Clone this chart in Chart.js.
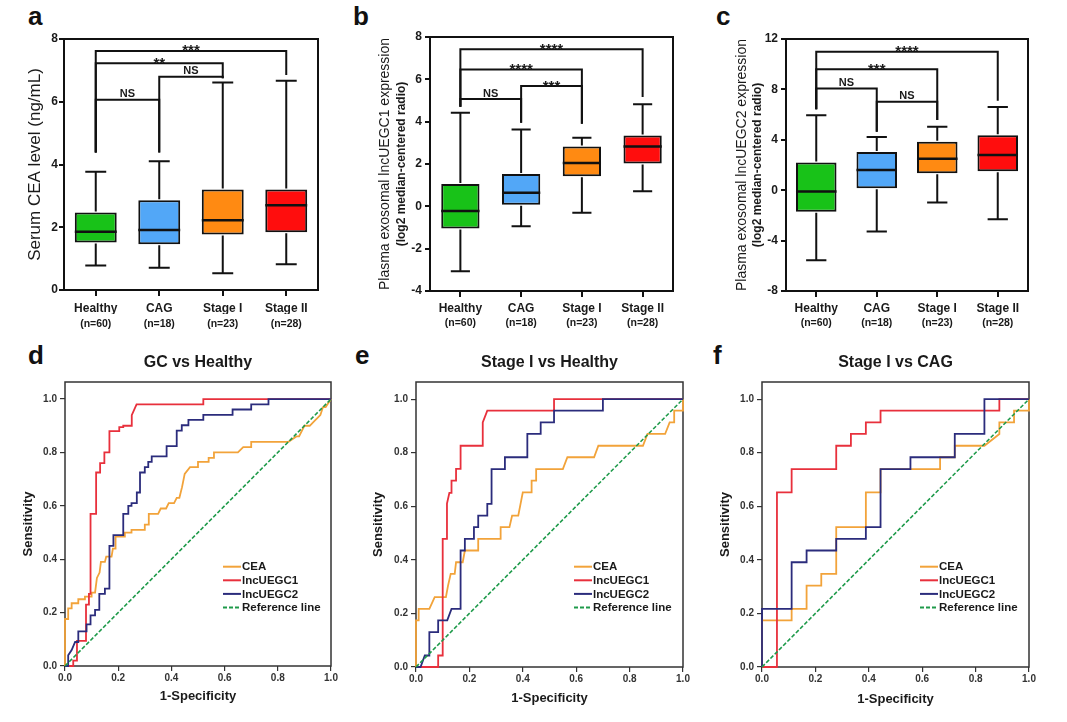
<!DOCTYPE html>
<html><head><meta charset="utf-8">
<script src="https://cdn.jsdelivr.net/npm/chart.js@4.4.1/dist/chart.umd.min.js"></script>
<style>
body{margin:0;background:#fff;width:1067px;height:722px;overflow:hidden;position:relative;font-family:"Liberation Sans",Arial,sans-serif}
canvas{position:absolute}
.lt{position:absolute;font:bold 26px "Liberation Sans",Arial,sans-serif;line-height:26px;color:#111}
</style></head><body>
<div class="lt" style="left:28px;top:3px">a</div>
<div class="lt" style="left:353px;top:3px">b</div>
<div class="lt" style="left:716px;top:3px">c</div>
<div class="lt" style="left:28px;top:342px">d</div>
<div class="lt" style="left:355px;top:342px">e</div>
<div class="lt" style="left:713px;top:342px">f</div>
<canvas id="ca" width="345" height="340" style="left:0;top:0"></canvas>
<canvas id="cb" width="350" height="340" style="left:350px;top:0"></canvas>
<canvas id="cc" width="357" height="340" style="left:710px;top:0"></canvas>
<canvas id="cd" width="350" height="382" style="left:0;top:340px"></canvas>
<canvas id="ce" width="350" height="382" style="left:350px;top:340px"></canvas>
<canvas id="cf" width="357" height="382" style="left:710px;top:340px"></canvas>
<script>
// ---------- box-plot data ----------
const groups = ['Healthy','CAG','Stage I','Stage II'];
const groupN = ['(n=60)','(n=18)','(n=23)','(n=28)'];
const boxColors = ['#18c218','#52a7f7','#ff8a12','#ff0d0d'];

const ceaMin = [0.78,0.71,0.53,0.82];
const ceaQ1  = [1.51,1.46,1.77,1.84];
const ceaMed = [1.86,1.91,2.22,2.70];
const ceaQ3  = [2.47,2.86,3.20,3.20];
const ceaMax = [3.77,4.10,6.61,6.67];
const ceaBrackets = [[0,3,7.62,4.38,6.85,'***'],[0,2,7.23,4.38,6.75,'**'],[1,2,6.80,4.38,6.75,'NS'],[0,1,6.06,4.38,4.38,'NS']];

const u1Min = [-3.07,-0.94,-0.30,0.71];
const u1Q1  = [-1.05,0.08,1.42,2.02];
const u1Med = [-0.22,0.64,2.05,2.83];
const u1Q3  = [1.05,1.53,2.83,3.35];
const u1Max = [4.42,3.63,3.24,4.82];
const u1Brackets = [[0,3,7.42,4.71,5.17,'****'],[0,2,6.46,4.71,3.9,'****'],[1,2,5.68,3.95,3.9,'***'],[0,1,5.07,4.71,3.95,'NS']];

const u2Min = [-5.56,-3.28,-0.98,-2.30];
const u2Q1  = [-1.72,0.16,1.35,1.51];
const u2Med = [-0.10,1.61,2.49,2.80];
const u2Q3  = [2.20,3.04,3.84,4.37];
const u2Max = [5.95,4.23,5.03,6.61];
const u2Brackets = [[0,3,10.98,6.43,7.09,'****'],[0,2,9.6,6.43,5.58,'***'],[0,1,8.07,6.43,4.63,'NS'],[1,2,7.01,4.63,5.58,'NS']];

// ---------- ROC data ----------
const rocLabels = ['CEA','lncUEGC1','lncUEGC2','Reference line'];
const rocColors = ['#f2a33a','#e8303c','#2b2c7c','#1e9a4a'];
const refLine = [[0,0],[1,1]];

const dCEA = [[0,0],[0,0.176],[0.012,0.176],[0.012,0.216],[0.025,0.216],[0.025,0.235],[0.05,0.235],[0.05,0.25],[0.075,0.25],[0.075,0.26],[0.1,0.26],[0.1,0.275],[0.113,0.275],[0.12,0.33],[0.13,0.35],[0.135,0.39],[0.15,0.39],[0.155,0.41],[0.175,0.41],[0.18,0.44],[0.19,0.44],[0.19,0.485],[0.225,0.485],[0.225,0.5],[0.25,0.5],[0.25,0.51],[0.3,0.51],[0.3,0.53],[0.315,0.53],[0.315,0.57],[0.35,0.57],[0.36,0.59],[0.38,0.59],[0.39,0.61],[0.41,0.61],[0.42,0.63],[0.43,0.63],[0.44,0.67],[0.45,0.72],[0.47,0.745],[0.5,0.745],[0.5,0.765],[0.54,0.765],[0.54,0.78],[0.56,0.78],[0.56,0.8],[0.65,0.8],[0.67,0.82],[0.7,0.82],[0.7,0.84],[0.84,0.84],[0.87,0.86],[0.88,0.86],[0.9,0.9],[0.92,0.9],[0.94,0.92],[0.96,0.94],[0.97,0.97],[0.98,0.97],[1,1]];
const dU1 = [[0,0],[0.031,0],[0.031,0.02],[0.045,0.02],[0.045,0.094],[0.079,0.094],[0.079,0.23],[0.09,0.23],[0.09,0.27],[0.096,0.27],[0.096,0.57],[0.117,0.57],[0.117,0.725],[0.132,0.725],[0.132,0.76],[0.148,0.76],[0.148,0.8],[0.167,0.8],[0.167,0.88],[0.204,0.88],[0.204,0.895],[0.219,0.895],[0.219,0.9],[0.251,0.9],[0.251,0.94],[0.269,0.98],[0.52,0.98],[0.52,1],[1,1]];
const dU2 = [[0,0],[0.012,0],[0.012,0.04],[0.025,0.06],[0.038,0.09],[0.05,0.09],[0.05,0.13],[0.081,0.13],[0.081,0.156],[0.096,0.156],[0.096,0.19],[0.113,0.19],[0.113,0.21],[0.129,0.21],[0.129,0.27],[0.15,0.27],[0.15,0.29],[0.167,0.29],[0.167,0.45],[0.182,0.45],[0.182,0.49],[0.219,0.49],[0.219,0.57],[0.238,0.57],[0.238,0.6],[0.25,0.6],[0.25,0.61],[0.27,0.61],[0.27,0.65],[0.282,0.65],[0.282,0.725],[0.3,0.725],[0.3,0.745],[0.313,0.745],[0.313,0.765],[0.326,0.765],[0.326,0.785],[0.382,0.785],[0.382,0.824],[0.42,0.824],[0.42,0.882],[0.439,0.882],[0.439,0.902],[0.464,0.902],[0.464,0.922],[0.52,0.922],[0.52,0.941],[0.63,0.941],[0.63,0.961],[0.70,0.961],[0.70,0.98],[0.765,0.98],[0.765,1],[1,1]];

const eCEA = [[0,0],[0,0.174],[0.01,0.174],[0.01,0.217],[0.05,0.217],[0.07,0.261],[0.112,0.261],[0.12,0.304],[0.13,0.348],[0.145,0.348],[0.15,0.391],[0.175,0.391],[0.183,0.435],[0.233,0.435],[0.233,0.478],[0.317,0.478],[0.317,0.522],[0.35,0.522],[0.36,0.565],[0.383,0.565],[0.4,0.652],[0.433,0.652],[0.433,0.696],[0.45,0.696],[0.45,0.739],[0.55,0.739],[0.567,0.783],[0.667,0.783],[0.683,0.826],[0.85,0.826],[0.867,0.87],[0.933,0.87],[0.95,0.913],[0.967,0.913],[0.967,0.957],[1,0.957],[1,1]];
const eU1 = [[0,0],[0.083,0],[0.083,0.043],[0.1,0.043],[0.1,0.478],[0.116,0.478],[0.116,0.61],[0.125,0.65],[0.133,0.65],[0.133,0.696],[0.15,0.696],[0.15,0.74],[0.167,0.74],[0.167,0.826],[0.25,0.826],[0.25,0.913],[0.267,0.957],[0.517,0.957],[0.517,1],[1,1]];
const eU2 = [[0,0],[0.017,0],[0.033,0.043],[0.05,0.043],[0.05,0.13],[0.083,0.13],[0.083,0.174],[0.117,0.174],[0.133,0.217],[0.167,0.217],[0.167,0.435],[0.183,0.435],[0.183,0.478],[0.217,0.478],[0.217,0.522],[0.233,0.522],[0.233,0.565],[0.267,0.565],[0.267,0.609],[0.283,0.609],[0.283,0.739],[0.333,0.739],[0.333,0.783],[0.417,0.783],[0.417,0.87],[0.467,0.87],[0.467,0.913],[0.517,0.913],[0.517,0.957],[0.7,0.957],[0.7,1],[1,1]];

const fCEA = [[0,0],[0,0.174],[0.111,0.174],[0.111,0.217],[0.167,0.217],[0.167,0.304],[0.222,0.304],[0.222,0.348],[0.278,0.348],[0.278,0.522],[0.389,0.522],[0.389,0.652],[0.444,0.652],[0.444,0.739],[0.667,0.739],[0.667,0.783],[0.722,0.783],[0.722,0.826],[0.833,0.826],[0.889,0.870],[0.889,0.913],[0.944,0.913],[0.944,0.957],[1,0.957],[1,1]];
const fU1 = [[0,0],[0.056,0],[0.056,0.652],[0.111,0.652],[0.111,0.739],[0.278,0.739],[0.278,0.826],[0.333,0.826],[0.333,0.870],[0.389,0.870],[0.389,0.913],[0.444,0.913],[0.444,0.957],[0.889,0.957],[0.889,1],[1,1]];
const fU2 = [[0,0],[0,0.217],[0.111,0.217],[0.111,0.391],[0.167,0.391],[0.167,0.435],[0.278,0.435],[0.278,0.478],[0.389,0.478],[0.389,0.522],[0.444,0.522],[0.444,0.739],[0.556,0.739],[0.556,0.783],[0.722,0.783],[0.722,0.870],[0.833,0.870],[0.833,1],[1,1]];

// ---------- common ----------
const FONT = '"Liberation Sans", Arial, sans-serif';
Chart.defaults.font.family = FONT;
Chart.defaults.color = '#1a1a1a';
Chart.defaults.animation = false;

function framePlugin(color, lw){
  return {id:'frame', beforeDatasetsDraw(chart){
    const {ctx, chartArea:a} = chart;
    ctx.save(); ctx.strokeStyle=color; ctx.lineWidth=lw;
    ctx.strokeRect(a.left, a.top, a.right-a.left, a.bottom-a.top);
    ctx.restore();
  }};
}

function boxExtras(mins, meds, maxs, brackets){
  return {id:'boxExtras', afterDatasetsDraw(chart){
    const {ctx, scales:{x,y}} = chart;
    const meta = chart.getDatasetMeta(0);
    ctx.save();
    ctx.strokeStyle='#111'; ctx.lineWidth=2; ctx.lineCap='butt'; ctx.lineJoin='miter';
    meta.data.forEach((bar,i)=>{
      const cx = x.getPixelForValue(i), w = bar.width;
      const [q1,q3] = chart.data.datasets[0].data[i];
      const yq1=y.getPixelForValue(q1), yq3=y.getPixelForValue(q3);
      const ymin=y.getPixelForValue(mins[i]), ymax=y.getPixelForValue(maxs[i]);
      ctx.beginPath();
      ctx.moveTo(cx,yq3-1); ctx.lineTo(cx,ymax);
      ctx.moveTo(cx,yq1+1); ctx.lineTo(cx,ymin);
      ctx.moveTo(cx-w*0.25,ymax); ctx.lineTo(cx+w*0.25,ymax);
      ctx.moveTo(cx-w*0.25,ymin); ctx.lineTo(cx+w*0.25,ymin);
      ctx.stroke();
      ctx.beginPath(); ctx.lineWidth=2.5;
      const ym=y.getPixelForValue(meds[i]);
      ctx.moveTo(cx-w/2,ym); ctx.lineTo(cx+w/2,ym); ctx.stroke();
      ctx.lineWidth=2;
    });
    ctx.fillStyle='#1a1a1a'; ctx.textAlign='center'; ctx.textBaseline='alphabetic';
    brackets.forEach(([a,b,yv,la,lb,txt])=>{
      const xa=x.getPixelForValue(a), xb=x.getPixelForValue(b), yy=y.getPixelForValue(yv);
      ctx.beginPath();
      ctx.moveTo(xa,y.getPixelForValue(la)); ctx.lineTo(xa,yy); ctx.lineTo(xb,yy); ctx.lineTo(xb,y.getPixelForValue(lb));
      ctx.stroke();
      if (txt==='NS'){ ctx.font='bold 11px '+FONT; ctx.fillText(txt,(xa+xb)/2,yy-2.5); }
      else { ctx.font='bold 15px '+FONT; ctx.fillText(txt,(xa+xb)/2,yy+4.5); }
    });
    ctx.restore();
  }};
}

function boxChart(id, q1, q3, mins, meds, maxs, brackets, o){
  const scales = {
    x:{type:'category', weight:0, offset:true,
       grid:{display:true, drawOnChartArea:false, offset:false, tickLength:6, color:'#111', lineWidth:2},
       border:{display:false},
       ticks:{font:{size:12, weight:'bold'}, color:'#1a1a1a', padding:o.xPad, maxRotation:0, autoSkip:false},
       afterFit(s){ s.height=24; }},
    x2:{type:'category', labels:groupN, position:'bottom', weight:1, offset:true,
       grid:{display:false, drawTicks:false}, border:{display:false},
       ticks:{font:{size:10.5, weight:'bold'}, color:'#1a1a1a', padding:o.x2Pad, maxRotation:0, autoSkip:false},
       afterFit(s){ s.height=o.x2H; }},
    y:{type:'linear', position:'left', weight:0, min:o.min, max:o.max,
       ticks:{stepSize:o.step, font:{size:12, weight:'bold'}, color:'#1a1a1a', padding:o.yPad},
       grid:{drawOnChartArea:false, tickLength:5, color:'#111', lineWidth:2},
       border:{display:false},
       title:{display:true, text:o.yTitle, font:o.yTitleFont, color:'#1a1a1a', padding:{top:o.yTitlePad, bottom:0}},
       afterFit(s){ s.width=o.yW; }}
  };
  if (o.mainTitle){
    scales.yt = {type:'linear', position:'left', weight:1, display:true,
      grid:{display:false, drawTicks:false}, border:{display:false}, ticks:{display:false},
      title:{display:true, text:o.mainTitle, font:{size:14}, color:'#1a1a1a', padding:{top:o.mainPad, bottom:0}},
      afterFit(s){ s.width=o.ytW; }};
  }
  new Chart(document.getElementById(id), {
    type:'bar',
    data:{labels:groups, datasets:[{
      data:q1.map((v,i)=>[v,q3[i]]),
      backgroundColor:boxColors, borderColor:'#111', borderWidth:2, borderSkipped:false,
      barPercentage:o.barPct, categoryPercentage:1
    }]},
    options:{responsive:false, devicePixelRatio:1,
      layout:{padding:{left:0, top:o.top, right:o.right, bottom:0}},
      plugins:{legend:{display:false}, tooltip:{enabled:false}},
      scales},
    plugins:[framePlugin('#111',2), boxExtras(mins, meds, maxs, brackets)]
  });
}

boxChart('ca', ceaQ1, ceaQ3, ceaMin, ceaMed, ceaMax, ceaBrackets,
  {min:0,max:8,step:2, top:39, right:27, yW:64, yPad:1, yTitle:'Serum CEA level (ng/mL)', yTitleFont:{size:17}, yTitlePad:24.8,
   xPad:5, x2Pad:4, x2H:26, barPct:0.66});
boxChart('cb', u1Q1, u1Q3, u1Min, u1Med, u1Max, u1Brackets,
  {min:-4,max:8,step:2, top:37, right:27, yW:36, yPad:3, yTitle:'(log2 median-centered radio)', yTitleFont:{size:12, weight:'bold'}, yTitlePad:0.5,
   mainTitle:'Plasma exosomal lncUEGC1 expression', mainPad:26.6, ytW:44,
   xPad:4, x2Pad:2, x2H:25, barPct:0.63});
boxChart('cc', u2Q1, u2Q3, u2Min, u2Med, u2Max, u2Brackets,
  {min:-8,max:12,step:4, top:39, right:39, yW:36, yPad:3, yTitle:'(log2 median-centered radio)', yTitleFont:{size:12, weight:'bold'}, yTitlePad:0.5,
   mainTitle:'Plasma exosomal lncUEGC2 expression', mainPad:23.3, ytW:40,
   xPad:4, x2Pad:2, x2H:25, barPct:0.67});

// ---------- ROC ----------
const rocLegend = {id:'rocLegend', afterDraw(chart){
  const {ctx, chartArea:a} = chart;
  const x0 = a.left+158, y0 = a.top+184.7;
  ctx.save();
  rocLabels.forEach((lab,i)=>{
    const yy = y0 + i*13.6;
    ctx.strokeStyle = rocColors[i]; ctx.lineWidth = 2;
    ctx.setLineDash(i===3?[4,2]:[]);
    ctx.beginPath(); ctx.moveTo(x0,yy); ctx.lineTo(x0+18,yy); ctx.stroke();
    ctx.setLineDash([]);
    ctx.fillStyle='#1a1a1a'; ctx.font='bold 11.5px '+FONT; ctx.textBaseline='middle'; ctx.textAlign='left';
    ctx.fillText(lab, x0+19, yy+0.5);
  });
  ctx.restore();
}};

function rocChart(id, title, curves, o){
  const fmt = v => Number(v).toFixed(1);
  new Chart(document.getElementById(id), {
    type:'scatter',
    data:{datasets: curves.map((c,i)=>({
      label:rocLabels[i], data:c.map(p=>({x:p[0], y:p[1]})), showLine:true,
      borderColor:rocColors[i], backgroundColor:rocColors[i], borderWidth:i===3?1.6:1.8,
      borderDash:i===3?[4,2]:[], pointRadius:0, pointHoverRadius:0, fill:false, tension:0,
      order:4-i, clip:3
    }))},
    options:{responsive:false, devicePixelRatio:1,
      layout:{padding:{left:0, top:0, right:o.right, bottom:0}},
      plugins:{legend:{display:false}, tooltip:{enabled:false},
        title:{display:true, text:title, fullSize:false, font:{size:16, weight:'bold'}, color:'#1a1a1a', padding:{top:13.4, bottom:9.4}}},
      scales:{
        x:{type:'linear', min:0, max:1,
          ticks:{stepSize:0.2, font:{size:10, weight:'bold'}, color:'#333', padding:1, callback:fmt},
          grid:{drawOnChartArea:false, tickLength:5, color:'#333', lineWidth:1.2},
          border:{display:false},
          title:{display:true, text:'1-Specificity', font:{size:13, weight:'bold'}, color:'#1a1a1a', padding:{top:0, bottom:o.xtPad}},
          afterFit(s){ s.height=o.xH; }},
        y:{type:'linear', min:0, max:1.064,
          ticks:{stepSize:0.2, includeBounds:false, font:{size:10, weight:'bold'}, color:'#333', padding:3, callback:fmt},
          grid:{drawOnChartArea:false, tickLength:5, color:'#333', lineWidth:1.2},
          border:{display:false},
          title:{display:true, text:'Sensitivity', font:{size:13, weight:'bold'}, color:'#1a1a1a', padding:{top:o.ytPad, bottom:0}},
          afterFit(s){ s.width=o.yW; }}
      }},
    plugins:[framePlugin('#333',1.5), rocLegend]
  });
}

rocChart('cd', 'GC vs Healthy', [dCEA, dU1, dU2, refLine], {right:19, yW:65, ytPad:20.5, xH:56, xtPad:17.5});
rocChart('ce', 'Stage I vs Healthy', [eCEA, eU1, eU2, refLine], {right:17, yW:66, ytPad:20.5, xH:55, xtPad:15.9});
rocChart('cf', 'Stage I vs CAG', [fCEA, fU1, fU2, refLine], {right:38, yW:52, ytPad:7.2, xH:55, xtPad:14.9});
</script>
</body></html>
